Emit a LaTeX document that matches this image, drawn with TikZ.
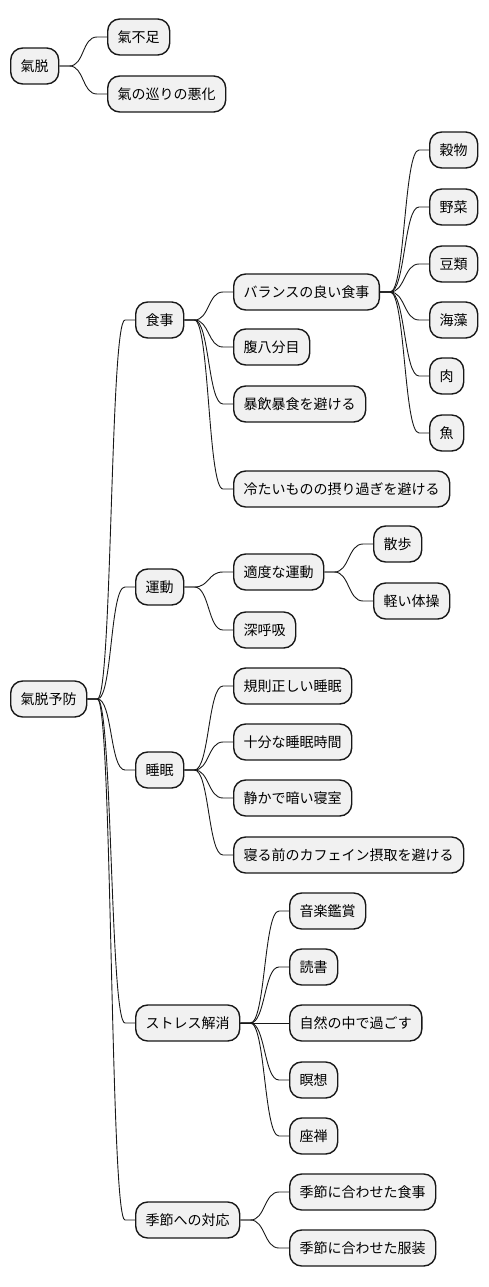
\documentclass[tikz,border=0pt]{standalone}
\usepackage{fontspec}
\setmainfont{Noto Sans CJK JP}
\usetikzlibrary{calc}
\definecolor{boxfill}{HTML}{F1F1F1}
\definecolor{boxline}{HTML}{181818}
\tikzset{
  mnode/.style={draw=boxline, fill=boxfill, line width=1.4pt, rounded corners=12pt,
    minimum height=36pt, inner xsep=10pt, inner ysep=0pt, anchor=west,
    font=\fontsize{14pt}{14pt}\selectfont, text=black},
  conn/.style={draw=boxline, line width=0.9pt}
}
\newcommand\mlink[2]{\draw[conn] (#1.east) -- ++(10,0) .. controls ($(#1.east)+(25,0)$) and ($(#2.west)+(-25,0)$) .. ($(#2.west)+(-10,0)$) -- (#2.west);}
\begin{document}
\begin{tikzpicture}[x=1pt,y=-1pt]
\useasboundingbox (0,0) rectangle (488,1287);
% first tree
\node[mnode] (k) at (10,66) {氣脱};
\node[mnode] (k1) at (107,37) {氣不足};
\node[mnode] (k2) at (107,94) {氣の巡りの悪化};
% second tree
\node[mnode] (r) at (10,699) {氣脱予防};
\node[mnode] (a) at (135,320) {食事};
\node[mnode] (a1) at (233,292) {バランスの良い食事};
\node[mnode] (a11) at (429,150) {穀物};
\node[mnode] (a12) at (429,207) {野菜};
\node[mnode] (a13) at (429,264) {豆類};
\node[mnode] (a14) at (429,320) {海藻};
\node[mnode] (a15) at (429,376) {肉};
\node[mnode] (a16) at (429,433) {魚};
\node[mnode] (a2) at (233,347) {腹八分目};
\node[mnode] (a3) at (233,404) {暴飲暴食を避ける};
\node[mnode] (a4) at (233,489) {冷たいものの摂り過ぎを避ける};
\node[mnode] (b) at (135,587) {運動};
\node[mnode] (b1) at (233,572) {適度な運動};
\node[mnode] (b11) at (373,544) {散歩};
\node[mnode] (b12) at (373,601) {軽い体操};
\node[mnode] (b2) at (233,630) {深呼吸};
\node[mnode] (c) at (135,770) {睡眠};
\node[mnode] (c1) at (233,686) {規則正しい睡眠};
\node[mnode] (c2) at (233,742) {十分な睡眠時間};
\node[mnode] (c3) at (233,798) {静かで暗い寝室};
\node[mnode] (c4) at (233,855) {寝る前のカフェイン摂取を避ける};
\node[mnode] (d) at (135,1023) {ストレス解消};
\node[mnode] (d1) at (289,911) {音楽鑑賞};
\node[mnode] (d2) at (289,967) {読書};
\node[mnode] (d3) at (289,1023) {自然の中で過ごす};
\node[mnode] (d4) at (289,1080) {瞑想};
\node[mnode] (d5) at (289,1136) {座禅};
\node[mnode] (e) at (135,1220) {季節への対応};
\node[mnode] (e1) at (289,1192) {季節に合わせた食事};
\node[mnode] (e2) at (289,1248) {季節に合わせた服装};
% links
\mlink{k}{k1}\mlink{k}{k2}
\mlink{r}{a}\mlink{r}{b}\mlink{r}{c}\mlink{r}{d}\mlink{r}{e}
\mlink{a}{a1}\mlink{a}{a2}\mlink{a}{a3}\mlink{a}{a4}
\mlink{a1}{a11}\mlink{a1}{a12}\mlink{a1}{a13}\mlink{a1}{a14}\mlink{a1}{a15}\mlink{a1}{a16}
\mlink{b}{b1}\mlink{b}{b2}\mlink{b1}{b11}\mlink{b1}{b12}
\mlink{c}{c1}\mlink{c}{c2}\mlink{c}{c3}\mlink{c}{c4}
\mlink{d}{d1}\mlink{d}{d2}\mlink{d}{d3}\mlink{d}{d4}\mlink{d}{d5}
\mlink{e}{e1}\mlink{e}{e2}
\end{tikzpicture}
\end{document}
